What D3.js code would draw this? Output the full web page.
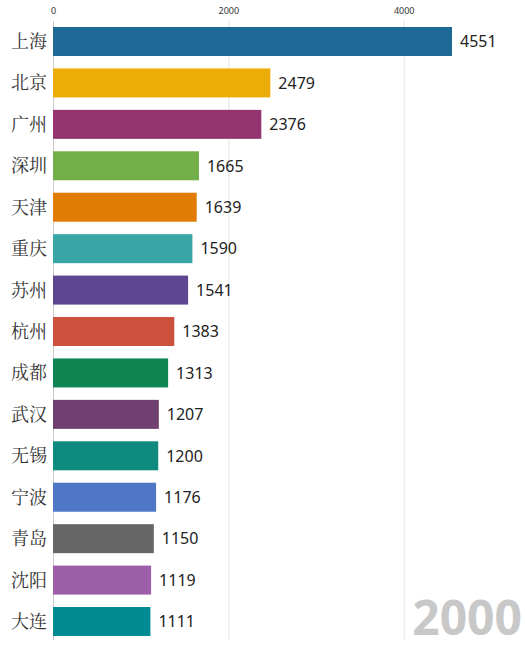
<!DOCTYPE html>
<html>
<head>
<meta charset="utf-8">
<script src="https://cdn.jsdelivr.net/npm/d3@7"></script>
<style>
  body { margin: 0; background: #fff; }
  .chart svg { display: block; }
</style>
</head>
<body>
<div class="chart"></div>
<script>
const cities = ['上海','北京','广州','深圳','天津','重庆','苏州','杭州','成都','武汉','无锡','宁波','青岛','沈阳','大连'];
const values = [4551, 2479, 2376, 1665, 1639, 1590, 1541, 1383, 1313, 1207, 1200, 1176, 1150, 1119, 1111];
const colors = ['#1d6996','#edad08','#94346e','#73af48','#e17c05','#38a6a5','#5f4690','#cc503e',
                '#0f8554','#6f4070','#0e8a7e','#4e78c6','#666666','#9c5ea8','#008a92'];
const tickValues = [0, 2000, 4000];
const year = '2000';

const data = cities.map((c, i) => ({city: c, value: values[i], color: colors[i]}));

const margin = {top: 27, left: 53, bottom: 14, right: 73};
const width = 525 - margin.left - margin.right;
const step = 41.43, pad = 0.3;

const svg = d3.select('.chart').append('svg')
    .attr('width', 525)
    .attr('height', 650)
    .append('g')
    .attr('transform', 'translate(' + margin.left + ',' + margin.top + ')');

const x = d3.scaleLinear()
    .domain([0, d3.max(values)])
    .range([0, width]);

const y = d3.scaleBand()
    .domain(cities)
    .range([0, step * (cities.length - pad)])
    .paddingInner(pad)
    .paddingOuter(0);

// grid lines + top tick labels
const xAxis = d3.axisTop(x)
    .tickValues(tickValues)
    .tickFormat(d3.format('d'))
    .tickSize(-619)
    .tickPadding(7);

const gx = svg.append('g')
    .attr('class', 'axis x-axis')
    .attr('transform', 'translate(0,-6)')
    .call(xAxis);
gx.select('.domain').remove();
gx.selectAll('line').attr('stroke', '#e3e3e3');
gx.selectAll('.tick:first-of-type line').attr('stroke', '#cccccc');
gx.selectAll('text')
    .attr('font-family', 'Noto Sans, sans-serif')
    .attr('font-size', '9px')
    .attr('fill', '#333');

svg.selectAll('.bar')
    .data(data)
    .enter()
    .append('rect')
    .attr('class', 'bar')
    .attr('x', x(0))
    .attr('y', d => y(d.city))
    .attr('width', d => x(d.value) - x(0))
    .attr('height', y.bandwidth())
    .attr('fill', d => d.color);

svg.selectAll('.name')
    .data(data)
    .enter()
    .append('text')
    .attr('class', 'name')
    .attr('x', -6)
    .attr('y', d => y(d.city) + y.bandwidth() / 2)
    .attr('dy', '0.36em')
    .attr('text-anchor', 'end')
    .attr('font-family', 'Noto Serif CJK SC, Noto Sans CJK SC, sans-serif')
    .attr('font-size', '18px')
    .attr('fill', '#333')
    .text(d => d.city);

svg.selectAll('.value')
    .data(data)
    .enter()
    .append('text')
    .attr('class', 'value')
    .attr('x', d => x(d.value) + 8)
    .attr('y', d => y(d.city) + y.bandwidth() / 2)
    .attr('dy', '0.36em')
    .attr('font-family', 'Noto Sans, sans-serif')
    .attr('font-size', '16px')
    .attr('fill', '#222')
    .text(d => d.value);

svg.append('text')
    .attr('x', 522 - margin.left)
    .attr('y', 635 - margin.top)
    .attr('text-anchor', 'end')
    .attr('font-family', 'Noto Sans, sans-serif')
    .attr('font-weight', 'bold')
    .attr('font-size', '48px')
    .attr('fill', '#c8c8c8')
    .text(year);
</script>
</body>
</html>
